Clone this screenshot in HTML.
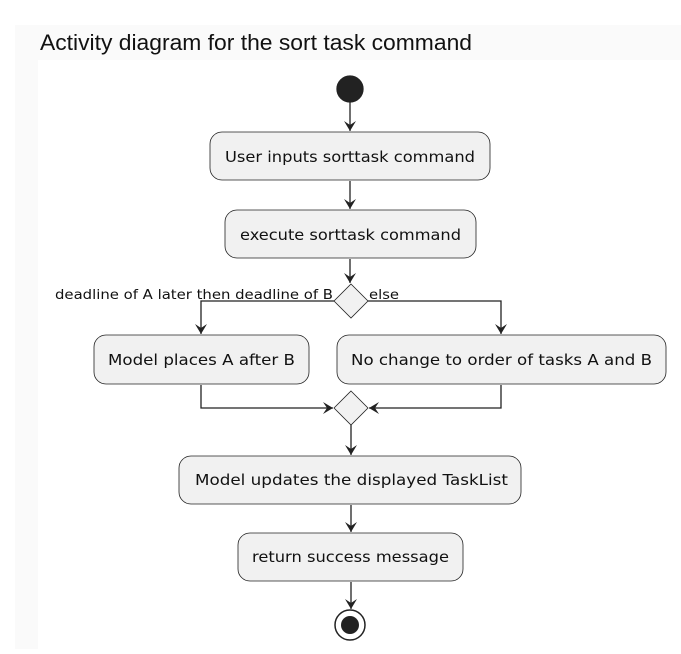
<!DOCTYPE html><html><head><style>body{margin:0;background:#fff}</style></head><body>
<svg width="681" height="649" xmlns="http://www.w3.org/2000/svg" font-family="DejaVu Sans, sans-serif">
<rect x="15" y="25" width="666" height="624" fill="#fafafa"/>
<rect x="38" y="60" width="643" height="589" fill="#fff"/>
<text x="40" y="50" font-size="22" fill="#111" font-family="Liberation Sans, sans-serif" textLength="432" lengthAdjust="spacingAndGlyphs">Activity diagram for the sort task command</text>
<defs><marker id="a" markerWidth="12" markerHeight="12" refX="10" refY="6" orient="auto" markerUnits="userSpaceOnUse"><path d="M0,0 L10,6 L0,12 L4,6 Z" fill="#222"/></marker></defs>
<g stroke="#222" stroke-width="1.3" fill="none">
<circle cx="350" cy="89" r="13" fill="#222"/>
<line x1="350" y1="102" x2="350" y2="131" marker-end="url(#a)"/>
<line x1="350" y1="181" x2="350" y2="209" marker-end="url(#a)"/>
<line x1="350" y1="259" x2="350" y2="283" marker-end="url(#a)"/>
<polyline points="334,301 201,301 201,334" marker-end="url(#a)"/>
<polyline points="368,301 501,301 501,334" marker-end="url(#a)"/>
<polyline points="201,385 201,408 333,408" marker-end="url(#a)"/>
<polyline points="501,385 501,408 369,408" marker-end="url(#a)"/>
<line x1="351" y1="425" x2="351" y2="455" marker-end="url(#a)"/>
<line x1="351" y1="505" x2="351" y2="532" marker-end="url(#a)"/>
<line x1="351" y1="582" x2="351" y2="609" marker-end="url(#a)"/>
</g>
<g stroke="#222" stroke-width="0.8" fill="#f1f1f1">
<rect x="210" y="132" width="280" height="48" rx="12"/>
<rect x="225" y="210" width="251" height="48" rx="12"/>
<rect x="94" y="335" width="215" height="49" rx="12"/>
<rect x="337" y="335" width="329" height="49" rx="12"/>
<rect x="179" y="456" width="342" height="48" rx="12"/>
<rect x="238" y="533" width="225" height="48" rx="12"/>
<polygon points="351,284 368,301 351,318 334,301"/>
<polygon points="351,391 368,408 351,425 334,408"/>
</g>
<circle cx="350" cy="625" r="15" fill="#fff" stroke="#222" stroke-width="1.5"/>
<circle cx="350" cy="625" r="9" fill="#222"/>
<g font-size="15" fill="#111" lengthAdjust="spacingAndGlyphs">
<text x="225" y="162" textLength="250" lengthAdjust="spacingAndGlyphs">User inputs sorttask command</text>
<text x="240" y="240" textLength="221" lengthAdjust="spacingAndGlyphs">execute sorttask command</text>
<text x="108" y="365" textLength="187" lengthAdjust="spacingAndGlyphs">Model places A after B</text>
<text x="351" y="365" textLength="301" lengthAdjust="spacingAndGlyphs">No change to order of tasks A and B</text>
<text x="195" y="485" textLength="313" lengthAdjust="spacingAndGlyphs">Model updates the displayed TaskList</text>
<text x="252" y="562" textLength="197" lengthAdjust="spacingAndGlyphs">return success message</text>
</g>
<g font-size="13" fill="#111">
<text x="55" y="299" textLength="278" lengthAdjust="spacingAndGlyphs">deadline of A later then deadline of B</text>
<text x="369" y="299" textLength="30" lengthAdjust="spacingAndGlyphs">else</text>
</g>
</svg>
</body></html>
